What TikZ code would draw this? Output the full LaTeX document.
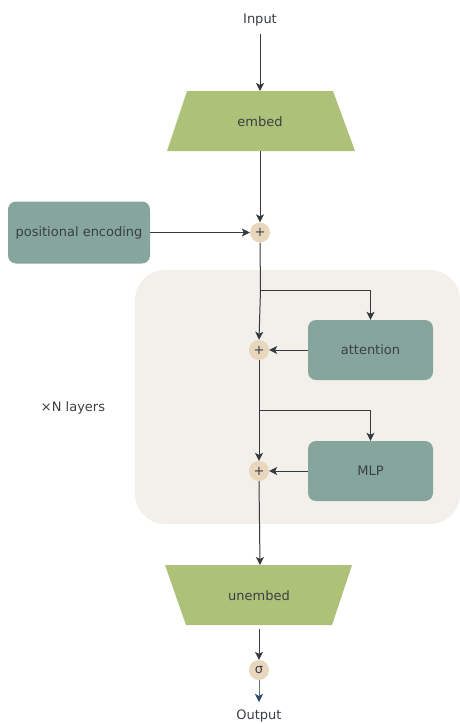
\documentclass[tikz,border=0pt]{standalone}
\usepackage{fontspec}
\setmainfont{DejaVu Sans}
\usetikzlibrary{arrows.meta,shapes.geometric}
\definecolor{leaf}{HTML}{ADC178}
\definecolor{sage}{HTML}{86A59C}
\definecolor{sand}{HTML}{E8D6BD}
\definecolor{paper}{HTML}{F3F0EB}
\definecolor{ink}{HTML}{353A3F}
\definecolor{txt}{HTML}{3B4045}
\definecolor{navy}{HTML}{2B4A66}
\definecolor{slate}{HTML}{5E7386}
\begin{document}
\begin{tikzpicture}[x=1pt,y=-1pt,
  every node/.style={font=\fontsize{13}{15}\selectfont, text=txt},
  flow/.style={draw=ink, line width=1pt, -{Stealth[length=8pt,width=8pt,inset=2pt]}},
  wire/.style={draw=ink, line width=1pt},
  block/.style={fill=sage, rounded corners=8pt, minimum width=125pt, minimum height=60pt},
  summer/.style={circle, fill=sand, minimum size=20pt, inner sep=0pt},
  proj/.style={fill=leaf}]
  \useasboundingbox (0,0) rectangle (459,724);
  % layer background
  \fill[paper, rounded corners=30pt] (135,270) rectangle (460,524);
  \node (xn) at (73,408) {×N layers};

  % input and embedding
  \node (in) at (260,20) {Input};
  \fill[proj] (187,91) -- (333,91) -- (355,151) -- (167,151) -- cycle;
  \node (embed) at (260,122) {embed};
  \coordinate (embtop) at (260,91);
  \coordinate (embbot) at (260,151);

  \node[block, minimum width=142pt, minimum height=62pt] (pos) at (79,232.5) {positional encoding};
  \node[summer] (s1) at (260,232.5) {+};

  % residual block
  \node[block] (att) at (370.5,350) {attention};
  \node[block] (mlp) at (370.5,471) {MLP};
  \node[summer] (s2) at (259,350) {+};
  \node[summer] (s3) at (259,471) {+};
  \coordinate (b1) at (260.5,290);
  \coordinate (b2) at (259,410);

  % unembedding and output
  \fill[proj] (165,565) -- (352,565) -- (332,625) -- (186,625) -- cycle;
  \node (unembed) at (259,596) {unembed};
  \coordinate (untop) at (260,565);
  \coordinate (unbot) at (259,629);
  \node[summer] (sig) at (259,670) {σ};
  \node (out) at (259,716.5) {Output};

  % connectors
  \draw[flow] (in.south |- 0,34) -- (embtop);
  \draw[flow] (embbot) -- (s1.north);
  \draw[flow] (pos.east) -- (s1.west);
  \draw[wire] (s1.south) -- (b1);
  \draw[flow] (b1) -- (s2.north);
  \draw[flow] (b1) -| (att.north);
  \draw[flow] (att.west) -- (s2.east);
  \draw[wire] (s2.south) -- (b2);
  \draw[flow] (b2) -- (s3.north);
  \draw[flow] (b2) -| (mlp.north);
  \draw[flow] (mlp.west) -- (s3.east);
  \draw[flow] (s3.south) -- (untop);
  \draw[flow] (unbot) -- (sig.north);
  \draw[flow, draw=slate, -{Stealth[length=8pt,width=8pt,inset=2pt,fill=navy,color=navy]}] (sig.south) -- (259,702);
\end{tikzpicture}
\end{document}
